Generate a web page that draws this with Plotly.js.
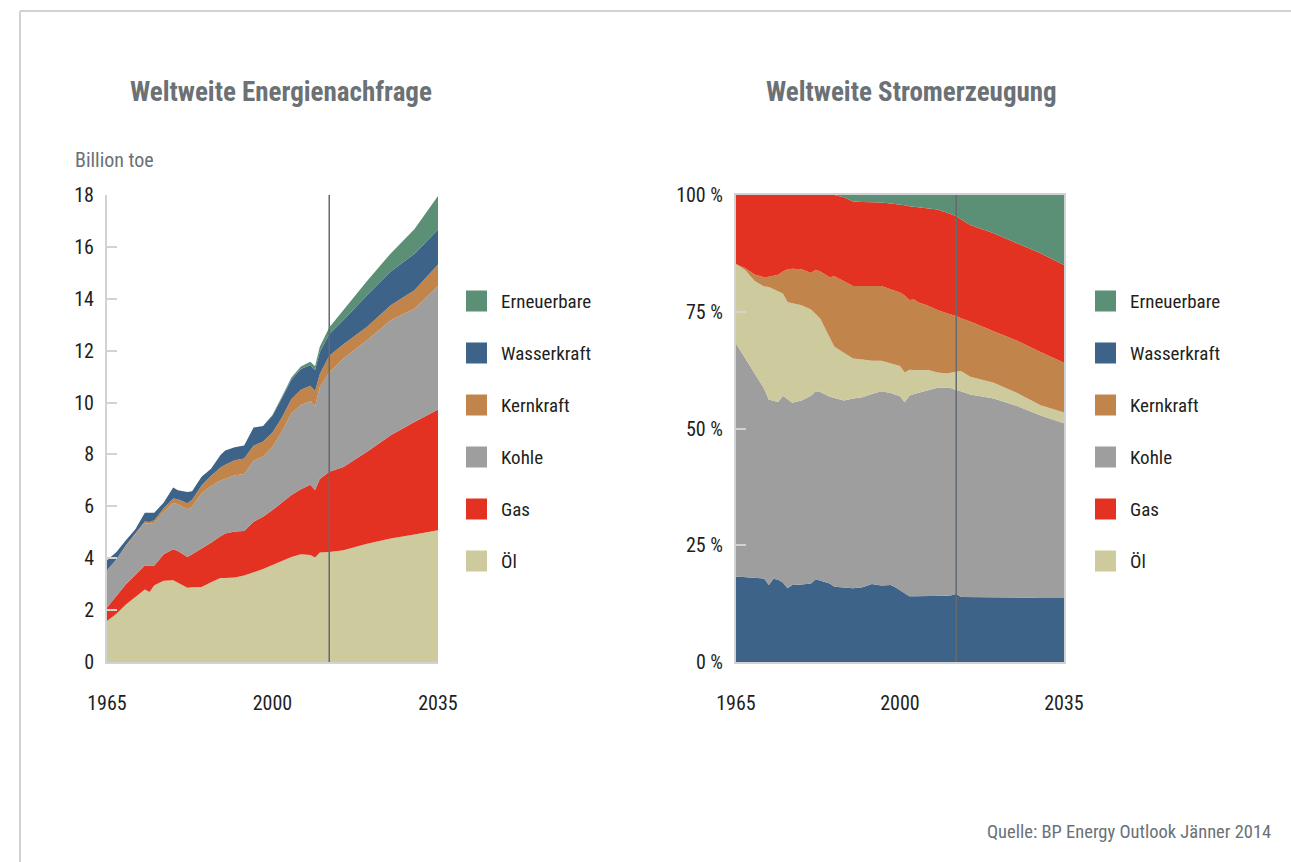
<!DOCTYPE html>
<html>
<head>
<meta charset="utf-8">
<script src="https://cdn.plot.ly/plotly-3.0.1.min.js"></script>
<style>
  html, body { margin: 0; padding: 0; background: #fff; }
  #chart { width: 1291px; height: 862px; }
</style>
</head>
<body>
<div id="chart"></div>
<script>
// Weltweite Energienachfrage (Billion toe), gestapelt von unten: Öl, Gas, Kohle, Kernkraft, Wasserkraft, Erneuerbare
var years1 = [1965,1967,1969,1971,1973,1974,1975,1977,1979,1980,1982,1983,1985,1987,1989,1990,1992,1994,1996,1998,
              2000,2002,2004,2006,2008,2009,2010,2012,2015,2020,2025,2030,2035];
var oel1    = [1.58,1.86,2.22,2.51,2.79,2.70,2.96,3.13,3.15,3.05,2.86,2.88,2.89,3.07,3.24,3.24,3.26,3.33,3.45,3.58,
               3.74,3.88,4.05,4.15,4.12,4.03,4.22,4.24,4.31,4.56,4.76,4.91,5.08];
var gas1    = [0.52,0.69,0.78,0.84,0.93,1.02,0.76,1.02,1.20,1.23,1.19,1.27,1.48,1.53,1.61,1.71,1.77,1.72,1.96,2.02,
               2.12,2.26,2.39,2.51,2.71,2.60,2.83,3.09,3.21,3.54,3.98,4.34,4.65];
var kohle1  = [1.44,1.41,1.48,1.58,1.64,1.61,1.64,1.64,1.78,1.80,1.84,1.83,2.13,2.18,2.15,2.10,2.17,2.19,2.35,2.32,
               2.44,2.74,3.15,3.25,3.22,3.22,3.55,3.82,4.18,4.30,4.43,4.37,4.76];
var kern1   = [0,0,0.02,0.04,0.06,0.07,0.10,0.14,0.17,0.19,0.23,0.27,0.30,0.40,0.50,0.55,0.58,0.60,0.58,0.58,
               0.55,0.55,0.55,0.58,0.60,0.60,0.50,0.65,0.55,0.52,0.58,0.71,0.83];
var wasser1 = [0.38,0.28,0.19,0.15,0.33,0.36,0.29,0.22,0.43,0.35,0.43,0.33,0.34,0.27,0.48,0.55,0.50,0.50,0.70,0.60,
               0.65,0.75,0.75,0.80,0.80,0.80,0.85,0.83,0.93,1.22,1.30,1.40,1.35];
var ern1    = [0,0,0,0,0,0,0,0,0,0,0,0,0,0,0,0,0,0,0,0,
               0.03,0.05,0.08,0.10,0.12,0.15,0.20,0.26,0.39,0.55,0.70,0.95,1.29];

// Weltweite Stromerzeugung (Anteile in %), gestapelt von unten: Wasserkraft, Kohle, Öl, Kernkraft, Gas, Erneuerbare
var years2 = [1965,1967,1969,1971,1972,1973,1974,1975,1976,1977,1979,1981,1982,1983,1985,1986,1988,1990,1992,1994,
              1996,1998,1999,2000,2001,2002,2003,2004,2006,2008,2010,2011,2012,2013,2015,2020,2025,2030,2035];
var wasser2 = [18.3,18.2,18.1,17.9,16.5,17.8,17.6,17.0,15.8,16.5,16.6,16.8,17.7,17.4,16.8,16.1,16.0,15.8,16.0,16.7,
               16.4,16.5,16.0,15.4,14.8,14.1,14.1,14.1,14.1,14.1,14.2,14.3,14.6,13.9,13.9,13.8,13.8,13.7,13.7];
var kohle2  = [49.9,46.8,43.4,40.6,39.7,38.2,38.1,40.0,40.4,39.0,39.4,40.2,40.3,40.4,40.0,40.4,40.0,40.6,40.7,40.7,
               41.6,41.1,41.2,41.5,40.8,42.9,43.3,43.6,44.1,44.6,44.6,44.3,43.6,44.1,43.4,42.6,41.0,39.1,37.4];
var oel2    = [17.0,18.9,20.1,21.9,24.1,23.8,23.6,21.9,20.9,21.3,20.4,18.5,16.5,15.7,12.7,11.0,10.2,8.6,8.1,7.1,
               6.5,6.4,6.4,6.5,6.4,5.6,5.1,4.8,4.3,3.3,3.0,3.4,4.0,4.3,3.8,3.4,2.8,2.2,2.3];
var kern2   = [0.0,0.4,1.4,2.0,2.2,2.9,3.6,4.7,7.0,7.4,7.7,7.8,9.5,10.1,12.9,15.1,15.4,15.5,15.7,16.0,
               16.0,15.8,15.9,15.7,16.5,14.9,15.1,14.5,13.8,13.4,12.9,12.4,11.9,11.3,11.8,11.0,11.2,11.4,10.7];
var gas2    = [14.8,15.7,17.0,17.6,17.5,17.3,17.1,16.4,15.9,15.8,15.9,16.7,16.0,16.4,17.6,17.4,17.9,18.1,18.0,18.0,
               17.9,18.4,18.6,18.8,19.3,20.1,19.9,20.4,20.8,21.5,21.5,21.5,21.4,21.2,20.7,21.0,20.8,21.1,20.9];
var ern2    = [0,0,0,0,0,0,0,0,0,0,0,0,0,0,0,0,0.5,1.4,1.5,1.5,
               1.6,1.8,1.9,2.1,2.2,2.4,2.5,2.6,2.9,3.1,3.8,4.1,4.5,5.2,6.4,8.2,10.4,12.5,15.0];

var xTicks = [1965, 2000, 2035];
var yTicks1 = [0, 2, 4, 6, 8, 10, 12, 14, 16, 18];
var yTicks2 = [0, 25, 50, 75, 100];
var yLabels2 = ['0 %', '25 %', '50 %', '75 %', '100 %'];
var splitYear = 2012;   // Ende der historischen Daten

var legendNames = ['Erneuerbare', 'Wasserkraft', 'Kernkraft', 'Kohle', 'Gas', 'Öl'];
var colors = {
    'Öl': '#cdca9e',
    'Gas': '#e43222',
    'Kohle': '#9d9e9d',
    'Kernkraft': '#c1844b',
    'Wasserkraft': '#3e6389',
    'Erneuerbare': '#5b8f76'
};

var W = 1291, H = 862;
function px(x) { return x / W; }
function py(y) { return 1 - y / H; }

var NARROW = 'Liberation Sans Narrow, Arial Narrow, Roboto Condensed, Liberation Sans, sans-serif';
var GREY_TXT = '#6b7175';
var AXIS = '#d0d2d3';

function area(name, x, y, xa, ya, group, norm) {
    var t = {
        x: x, y: y, name: name, type: 'scatter', mode: 'lines',
        stackgroup: group,
        line: {width: 0, color: colors[name]},
        fillcolor: colors[name],
        xaxis: xa, yaxis: ya,
        hoverinfo: 'skip'
    };
    if (norm) t.groupnorm = 'percent';
    return t;
}

var data = [
    area('Öl', years1, oel1, 'x', 'y', 'a'),
    area('Gas', years1, gas1, 'x', 'y', 'a'),
    area('Kohle', years1, kohle1, 'x', 'y', 'a'),
    area('Kernkraft', years1, kern1, 'x', 'y', 'a'),
    area('Wasserkraft', years1, wasser1, 'x', 'y', 'a'),
    area('Erneuerbare', years1, ern1, 'x', 'y', 'a'),

    area('Wasserkraft', years2, wasser2, 'x2', 'y2', 'b', true),
    area('Kohle', years2, kohle2, 'x2', 'y2', 'b'),
    area('Öl', years2, oel2, 'x2', 'y2', 'b'),
    area('Kernkraft', years2, kern2, 'x2', 'y2', 'b'),
    area('Gas', years2, gas2, 'x2', 'y2', 'b'),
    area('Erneuerbare', years2, ern2, 'x2', 'y2', 'b')
];

var tickFont = {family: NARROW, size: 20, color: '#1e1e1e'};
var yDomain = [py(662), py(195)];

function xAxis(dom, anchor, mirror) {
    return {
        domain: dom, anchor: anchor, range: [1965, 2035],
        tickmode: 'array', tickvals: xTicks, ticktext: xTicks.map(String),
        ticks: '', showgrid: false, zeroline: false,
        showline: true, linecolor: AXIS, linewidth: 2, mirror: mirror,
        tickfont: tickFont, ticklabelstandoff: 22, fixedrange: true
    };
}
function yAxis(dom, anchor, range, vals, text, mirror) {
    return {
        domain: dom, anchor: anchor, range: range,
        tickmode: 'array', tickvals: vals, ticktext: text,
        ticks: 'inside', ticklen: 10, tickwidth: 2, tickcolor: AXIS,
        showgrid: false, zeroline: false,
        showline: true, linecolor: AXIS, linewidth: 2, mirror: mirror,
        tickfont: tickFont, ticklabelstandoff: 7, fixedrange: true
    };
}

var shapes = [
    // Rahmen
    {type: 'line', xref: 'paper', yref: 'paper', x0: px(20), x1: 1, y0: py(11), y1: py(11), line: {color: AXIS, width: 2}},
    {type: 'line', xref: 'paper', yref: 'paper', x0: px(20), x1: px(20), y0: py(11), y1: 0, line: {color: AXIS, width: 2}},
    // Trennlinie Historie / Prognose
    {type: 'line', xref: 'x', yref: 'y', x0: splitYear, x1: splitYear, y0: 0, y1: 18, layer: 'above', line: {color: '#646b70', width: 1.5}},
    {type: 'line', xref: 'x2', yref: 'y2', x0: splitYear, x1: splitYear, y0: 0, y1: 100, layer: 'above', line: {color: '#646b70', width: 1.5}}
];

var annotations = [
    {text: '<b>Weltweite Energienachfrage</b>', x: px(281), y: py(92), xref: 'paper', yref: 'paper', showarrow: false,
     xanchor: 'center', yanchor: 'middle', font: {family: NARROW, size: 27, color: GREY_TXT}},
    {text: '<b>Weltweite Stromerzeugung</b>', x: px(911), y: py(92), xref: 'paper', yref: 'paper', showarrow: false,
     xanchor: 'center', yanchor: 'middle', font: {family: NARROW, size: 27, color: GREY_TXT}},
    {text: 'Billion toe', x: px(73), y: py(160), xref: 'paper', yref: 'paper', showarrow: false,
     xanchor: 'left', yanchor: 'middle', font: {family: NARROW, size: 20, color: GREY_TXT}},
    {text: 'Quelle: BP Energy Outlook Jänner 2014', x: px(1273), y: py(832), xref: 'paper', yref: 'paper', showarrow: false,
     xanchor: 'right', yanchor: 'middle', font: {family: NARROW, size: 18.5, color: GREY_TXT}}
];

// Legenden (beide Diagramme)
[466, 1095].forEach(function (lx) {
    legendNames.forEach(function (name, i) {
        var cy = 301 + i * 52;
        shapes.push({type: 'rect', xref: 'paper', yref: 'paper',
            x0: px(lx), x1: px(lx + 21), y0: py(cy + 10.5), y1: py(cy - 10.5),
            fillcolor: colors[name], line: {width: 0}});
        annotations.push({text: name, x: px(lx + 33), y: py(cy), xref: 'paper', yref: 'paper',
            showarrow: false, xanchor: 'left', yanchor: 'middle',
            font: {family: NARROW, size: 19, color: '#231f20'}});
    });
});

var layout = {
    width: W, height: H,
    margin: {t: 0, b: 0, l: 0, r: 0},
    paper_bgcolor: '#ffffff', plot_bgcolor: 'rgba(0,0,0,0)',
    showlegend: false,
    xaxis: xAxis([px(107), px(438)], 'y', false),
    yaxis: yAxis(yDomain, 'x', [0, 18], yTicks1, yTicks1.map(String), false),
    xaxis2: xAxis([px(736), px(1064)], 'y2', true),
    yaxis2: yAxis(yDomain, 'x2', [0, 100], yTicks2, yLabels2, true),
    shapes: shapes,
    annotations: annotations
};

Plotly.newPlot('chart', data, layout, {staticPlot: true});
</script>
</body>
</html>
